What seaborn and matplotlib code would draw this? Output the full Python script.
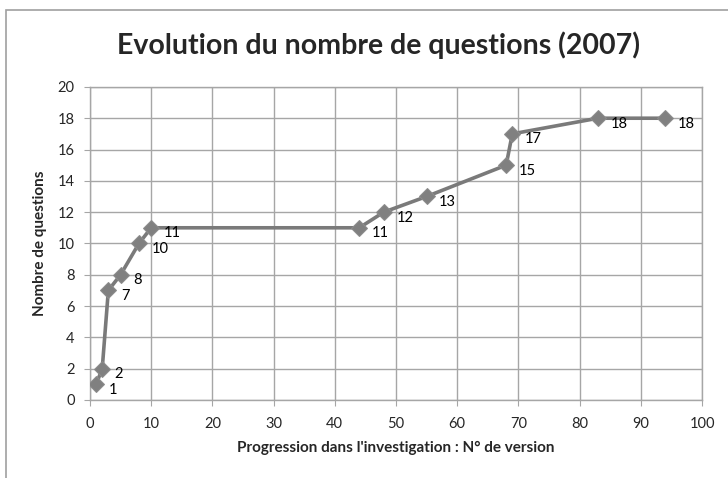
import matplotlib
matplotlib.use("Agg")
import matplotlib.pyplot as plt
import pandas as pd
import seaborn as sns
from matplotlib.patches import Rectangle

# version number vs number of questions
versions = [1, 2, 3, 5, 8, 10, 44, 48, 55, 68, 69, 83, 94]
questions = [1, 2, 7, 8, 10, 11, 11, 12, 13, 15, 17, 18, 18]

df = pd.DataFrame({"version": versions, "questions": questions})

sns.set_style("white")
plt.rcParams['font.family'] = ['Lato', 'DejaVu Sans']

fig = plt.figure(figsize=(7.28, 4.78), dpi=100)
ax = fig.add_axes([0.1236, 0.1632, 0.8407, 0.655])

grid_col = "#a6a6a6"
line_col = "#7a7a7a"

sns.lineplot(data=df, x="version", y="questions", ax=ax, color=line_col,
             linewidth=2.6, marker="D", markersize=8,
             markerfacecolor="#808080", markeredgecolor="#8c8c8c",
             zorder=3)

for v, q in zip(versions, questions):
    ax.annotate(str(q), (v, q), xytext=(9, -4), textcoords="offset points",
                ha="left", va="center", fontsize=10.5, color="black")

ax.set_xlim(0, 100)
ax.set_ylim(0, 20)
ax.set_xticks(range(0, 101, 10))
ax.set_yticks(range(0, 21, 2))
ax.grid(True, color=grid_col, linewidth=1)
ax.set_axisbelow(True)
for s in ax.spines.values():
    s.set_color(grid_col)
    s.set_linewidth(1)
ax.tick_params(axis="both", which="both", length=4, color=grid_col,
               labelsize=10.5, direction="out")
ax.tick_params(axis="y", pad=7)
ax.tick_params(axis="x", pad=8)
ax.xaxis.set_ticks_position("bottom")
ax.yaxis.set_ticks_position("left")

ax.set_xlabel("Progression dans l'investigation : N° de version",
              fontsize=11, fontweight="bold", labelpad=7)
ax.set_ylabel("Nombre de questions", fontsize=11, fontweight="bold",
              labelpad=8)

fig.text(0.52, 0.905, "Evolution du nombre de questions (2007)",
         ha="center", va="center", fontsize=20.5, fontweight="bold")

# chart frame (cropped on the right and bottom)
fig.patches.append(Rectangle((0.008, -0.05), 1.2, 1.029, transform=fig.transFigure,
                             fill=False, edgecolor="#a0a0a0", linewidth=1.2))

fig.savefig("out.png", dpi=100)
